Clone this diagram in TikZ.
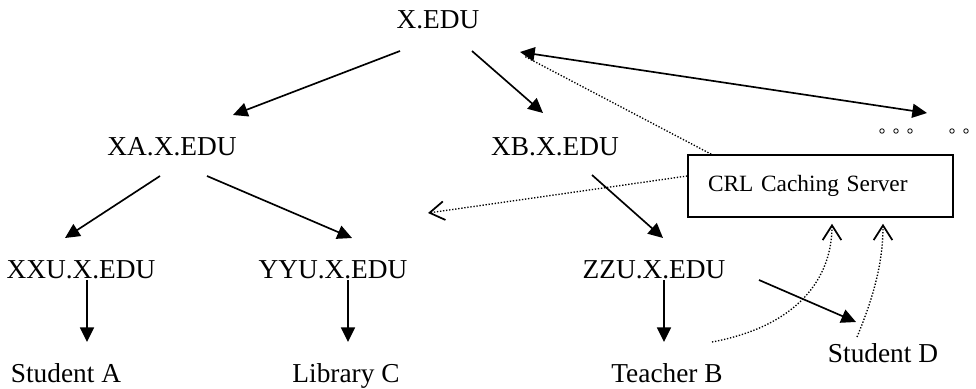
\documentclass[tikz,border=0pt]{standalone}
\usepackage{fontspec}
\setmainfont{Liberation Serif}
\usetikzlibrary{arrows.meta, calc}

\tikzset{
  lbl/.style={font=\fontsize{20.5}{24}\selectfont, inner sep=0pt, anchor=base},
  tree/.style={-{Triangle[length=11pt, width=10.5pt]}, line width=1.25pt},
  fetch/.style={-{Straight Barb[length=11pt, width=14pt, line width=1.3pt]},
                line width=1pt, dash pattern=on 1pt off 1.3pt},
}

\begin{document}
\begin{tikzpicture}[x=0.75pt, y=-0.75pt]
\useasboundingbox (0,0) rectangle (976,389);

% domain tree
\node[lbl] (xedu) at (438,28) {X.EDU};
\node[lbl] (xa) at (172,155) {XA.X.EDU};
\node[lbl] (xb) at (555,155) {XB.X.EDU};
\node[lbl] (xxu) at (81,278) {XXU.X.EDU};
\node[lbl] (yyu) at (333,278) {YYU.X.EDU};
\node[lbl] (zzu) at (654,278) {ZZU.X.EDU};

% end users
\node[lbl] (stua) at (66,382) {Student A};
\node[lbl] (libc) at (346,382) {Library C};
\node[lbl] (teachb) at (667,382) {Teacher B};
\node[lbl] (stud) at (883,362) {Student D};

% caching server
\node[draw, line width=1.2pt, minimum width=198.75pt, minimum height=46.5pt,
      text width=168.75pt, inner xsep=15pt, align=left,
      font=\fontsize{17.5}{21}\selectfont] (crl) at (820.5,186) {CRL Caching Server};

\coordinate (more) at (927,113);
\coordinate (hit) at (428,213);
\foreach \x in {882,896,910,952,966}
  \draw[line width=0.6pt] (\x,131) circle[radius=1.7pt];

\draw[tree] ($(xedu.base)+(-38,23)$) -- ($(xa.base)+(61,-40)$);
\draw[tree] ($(xedu.base)+(34,23)$) -- ($(xb.base)+(-12,-42)$);
\draw[tree] ($(xa.base)+(-12,21)$) -- ($(xxu.base)+(-16,-40)$);
\draw[tree] ($(xa.base)+(35,21)$) -- ($(yyu.base)+(19,-40)$);
\draw[tree] ($(xb.base)+(37,20)$) -- ($(zzu.base)+(9,-40)$);
\draw[tree] ($(xxu.base)+(6,2)$) -- ($(stua.base)+(21,-40)$);
\draw[tree] ($(yyu.base)+(15,2)$) -- ($(libc.base)+(2,-40)$);
\draw[tree] ($(zzu.base)+(10,2)$) -- ($(teachb.base)+(-3,-40)$);
\draw[tree] ($(zzu.base)+(105,2)$) -- ($(stud.base)+(-27,-40)$);

% lookups through the cache
\draw[fetch, -] ($(crl.north west)+(24,0)$) -- ($(xedu.base)+(86,28)$);
\draw[tree, {Triangle[length=11pt, width=10.5pt]}-{Triangle[length=11pt, width=10.5pt]}]
  ($(xedu.base)+(82,24)$) -- (more);
\draw[fetch] ($(crl.west)+(0,-10)$) -- (hit);
\draw[fetch] ($(teachb.base)+(45,-40)$) .. controls (798,326) and (832,278) .. ($(crl.south)+(11.5,6)$);
\draw[fetch] ($(stud.base)+(-26,-25)$) .. controls (874,296) and (883,262) .. ($(crl.south)+(62.5,6)$);
\end{tikzpicture}
\end{document}
